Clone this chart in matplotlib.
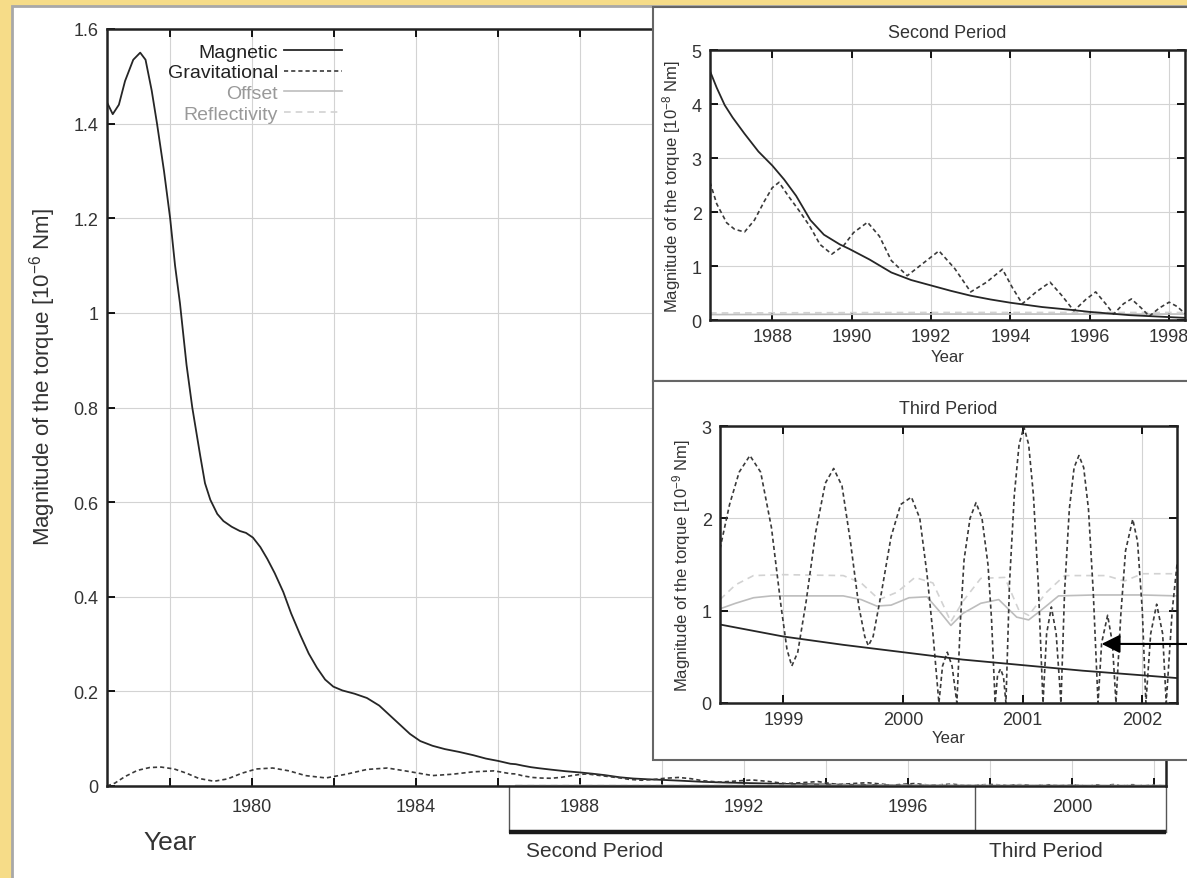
"""LAGEOS spin-axis torques: full mission with zooms on the second and third period."""

import numpy as np
import matplotlib
matplotlib.use("Agg")
import matplotlib.pyplot as plt
from matplotlib.patches import Rectangle

# --- first period, main panel, torque in 1e-6 Nm
MAIN_MAG_YEARS = [1976.46, 1976.6, 1976.75, 1976.9, 1977.1, 1977.27, 1977.4, 1977.55,
                  1977.68, 1977.85, 1978.0, 1978.12, 1978.24, 1978.4, 1978.54, 1978.73,
                  1978.85, 1978.98, 1979.15, 1979.3, 1979.5, 1979.7, 1979.85, 1980.02,
                  1980.2, 1980.37, 1980.55, 1980.76, 1980.95, 1981.17, 1981.38, 1981.58,
                  1981.78, 1981.98, 1982.2, 1982.5, 1982.8, 1983.1, 1983.35, 1983.6,
                  1983.85, 1984.1, 1984.4, 1984.7, 1985.05, 1985.4, 1985.7, 1986.0, 1986.3]
MAIN_MAG = [1.445, 1.42, 1.44, 1.49, 1.535, 1.55, 1.535, 1.47,
            1.40, 1.30, 1.20, 1.10, 1.02, 0.89, 0.80, 0.70,
            0.64, 0.605, 0.575, 0.56, 0.548, 0.539, 0.535, 0.525,
            0.505, 0.48, 0.45, 0.41, 0.365, 0.32, 0.28, 0.25,
            0.225, 0.21, 0.202, 0.195, 0.186, 0.17, 0.15, 0.13,
            0.11, 0.095, 0.085, 0.078, 0.072, 0.065, 0.058, 0.053, 0.047]

MAIN_GRAV_YEARS = [1976.46, 1976.65, 1976.9, 1977.2, 1977.5, 1977.78, 1978.1, 1978.4,
                   1978.7, 1979.07, 1979.4, 1979.75, 1980.1, 1980.5, 1980.9, 1981.3,
                   1981.8, 1982.3, 1982.8, 1983.3, 1983.8, 1984.4, 1984.9, 1985.4,
                   1985.9, 1986.3]
MAIN_GRAV = [0.0, 0.006, 0.02, 0.033, 0.039, 0.04, 0.036, 0.027,
             0.016, 0.01, 0.015, 0.027, 0.036, 0.038, 0.032, 0.022,
             0.017, 0.025, 0.035, 0.038, 0.031, 0.022, 0.025, 0.030,
             0.032, 0.026]

# --- second period, torque in 1e-8 Nm
P2_MAG_YEARS = [1986.43, 1986.6, 1986.8, 1987.0, 1987.3, 1987.65, 1988.0, 1988.3,
                1988.6, 1988.96, 1989.3, 1989.7, 1989.93, 1990.45, 1991.0, 1991.5,
                1992.0, 1992.5, 1993.0, 1993.5, 1994.0, 1994.8, 1995.5, 1996.0,
                1997.0, 1998.1, 1998.4]
P2_MAG = [4.61, 4.3, 3.98, 3.75, 3.45, 3.12, 2.86, 2.6,
          2.3, 1.85, 1.58, 1.4, 1.32, 1.12, 0.88, 0.74,
          0.64, 0.54, 0.45, 0.38, 0.32, 0.24, 0.19, 0.15,
          0.09, 0.05, 0.04]

P2_GRAV_YEARS = [1986.43, 1986.6, 1986.85, 1987.05, 1987.3, 1987.55, 1987.8, 1988.0,
                 1988.17, 1988.4, 1988.7, 1988.96, 1989.2, 1989.5, 1989.8, 1990.05,
                 1990.4, 1990.7, 1991.0, 1991.4, 1991.8, 1992.2, 1992.6, 1993.0,
                 1993.4, 1993.8, 1994.05, 1994.3, 1994.65, 1995.0, 1995.3, 1995.6,
                 1995.9, 1996.15, 1996.4, 1996.6, 1996.85, 1997.05, 1997.3, 1997.5,
                 1997.75, 1998.0, 1998.2, 1998.4]
P2_GRAV = [2.55, 2.15, 1.8, 1.68, 1.63, 1.85, 2.2, 2.45,
           2.55, 2.3, 2.0, 1.72, 1.4, 1.22, 1.38, 1.62,
           1.81, 1.55, 1.1, 0.82, 1.05, 1.28, 0.95, 0.52,
           0.7, 0.94, 0.6, 0.3, 0.52, 0.70, 0.45, 0.17,
           0.38, 0.52, 0.3, 0.11, 0.3, 0.39, 0.22, 0.07,
           0.22, 0.33, 0.25, 0.12]

P2_SMALL_YEARS = [1986.43, 1992.0, 1998.4]
P2_OFFSET = [0.10, 0.11, 0.11]
P2_REFL = [0.13, 0.14, 0.14]

# --- third period, torque in 1e-9 Nm
P3_MAG_YEARS = [1998.47, 1999.0, 1999.5, 2000.0, 2000.5, 2001.0, 2001.5, 2002.0, 2002.29]
P3_MAG = [0.85, 0.72, 0.63, 0.55, 0.47, 0.41, 0.35, 0.30, 0.27]

P3_GRAV_YEARS = [1998.47, 1998.55, 1998.63, 1998.72, 1998.81, 1998.90, 1998.98, 1999.03,
                 1999.07, 1999.12, 1999.19, 1999.27, 1999.35, 1999.42, 1999.49, 1999.56,
                 1999.63, 1999.68, 1999.71, 1999.75, 1999.82, 1999.90, 1999.98, 2000.07,
                 2000.14, 2000.20, 2000.25, 2000.30, 2000.33, 2000.37, 2000.41, 2000.45,
                 2000.48, 2000.51, 2000.56, 2000.61, 2000.66, 2000.71, 2000.74, 2000.77,
                 2000.79, 2000.815, 2000.84, 2000.86, 2000.89, 2000.93, 2000.97, 2001.01,
                 2001.05, 2001.09, 2001.13, 2001.17, 2001.20, 2001.24, 2001.28, 2001.32,
                 2001.35, 2001.39, 2001.43, 2001.47, 2001.51, 2001.55, 2001.59, 2001.63,
                 2001.66, 2001.71, 2001.75, 2001.78, 2001.82, 2001.86, 2001.92, 2001.96,
                 2002.00, 2002.03, 2002.07, 2002.12, 2002.17, 2002.20, 2002.25, 2002.29]
P3_GRAV = [1.67, 2.15, 2.50, 2.68, 2.50, 1.90, 1.05, 0.58,
           0.40, 0.55, 1.10, 1.85, 2.38, 2.54, 2.35, 1.75,
           1.05, 0.72, 0.62, 0.72, 1.20, 1.80, 2.15, 2.23,
           2.00, 1.40, 0.75, 0.0, 0.40, 0.55, 0.40, 0.0,
           0.9, 1.55, 2.0, 2.17, 2.0, 1.5, 0.9, 0.0,
           0.30, 0.37, 0.28, 0.0, 1.3, 2.25, 2.8, 2.99,
           2.8, 2.25, 1.3, 0.0, 0.75, 1.04, 0.75, 0.0,
           1.2, 2.1, 2.55, 2.68, 2.55, 2.1, 1.2, 0.0,
           0.65, 0.95, 0.65, 0.0, 0.95, 1.65, 1.99, 1.75,
           1.0, 0.0, 0.75, 1.07, 0.75, 0.0, 1.0, 1.5]

P3_OFF_YEARS = [1998.47, 1998.6, 1998.75, 1998.9, 1999.2, 1999.5, 1999.65, 1999.78,
                1999.9, 2000.05, 2000.2, 2000.3, 2000.4, 2000.5, 2000.65, 2000.8,
                2000.95, 2001.05, 2001.15, 2001.3, 2001.6, 2002.0, 2002.29]
P3_OFFSET = [1.02, 1.08, 1.14, 1.16, 1.16, 1.16, 1.12, 1.05,
             1.06, 1.14, 1.15, 1.0, 0.84, 0.97, 1.08, 1.12,
             0.93, 0.9, 1.0, 1.16, 1.17, 1.17, 1.16]

P3_REFL_YEARS = [1998.47, 1998.6, 1998.75, 1999.0, 1999.5, 1999.65, 1999.8, 1999.95,
                 2000.1, 2000.25, 2000.4, 2000.5, 2000.65, 2000.85, 2000.97, 2001.05,
                 2001.2, 2001.35, 2001.7, 2001.85, 2002.0, 2002.29]
P3_REFL = [1.12, 1.28, 1.38, 1.39, 1.38, 1.3, 1.12, 1.2,
           1.36, 1.3, 0.88, 1.1, 1.35, 1.36, 1.0, 0.95,
           1.2, 1.38, 1.38, 1.32, 1.4, 1.4]

SERIES = ["Magnetic", "Gravitational", "Offset", "Reflectivity"]
SECOND_START = 1986.27
THIRD_START = 1997.63

W, H = 1187, 879
TXT = "#333333"
STYLE = {
    "Magnetic": dict(color="#262626", lw=1.3, ls="-"),
    "Gravitational": dict(color="#3a3a3a", lw=1.2, ls=(0, (2.5, 1.8))),
    "Offset": dict(color="#bdbdbd", lw=1.2, ls="-"),
    "Reflectivity": dict(color="#d2d2d2", lw=1.2, ls=(0, (4, 3))),
}


def fx(px):
    return px / W


def fy(py):
    return 1 - py / H


def style_axes(ax, labelsize=13):
    for s in ax.spines.values():
        s.set_linewidth(1.8)
        s.set_color("#222222")
    ax.tick_params(direction="in", top=True, right=True, length=6, width=1.3,
                   labelsize=labelsize, labelcolor=TXT, pad=6)
    ax.grid(True, color="#d3d3d3", lw=0.8)
    ax.set_axisbelow(True)


def main():
    plt.rcParams["font.family"] = ["Liberation Sans", "DejaVu Sans"]
    plt.rcParams["mathtext.default"] = "regular"

    fig = plt.figure(figsize=(W / 100, H / 100), dpi=100)
    fig.patch.set_facecolor("#f6dc88")

    # white sheet + inset frames
    fig.patches.append(Rectangle((fx(12), -0.1), 1.2, fy(7) + 0.1, transform=fig.transFigure,
                                 facecolor="white", edgecolor="#a8a8a8", lw=2, zorder=-1))
    for top, bot in [(8, 382), (382, 761)]:
        fig.patches.append(Rectangle((fx(653), fy(bot)), 0.5, (bot - top) / H,
                                     transform=fig.transFigure, facecolor="white",
                                     edgecolor="#666666", lw=1.5, zorder=1))

    # ---- main panel
    ax = fig.add_axes([fx(107), fy(787), (1166 - 107) / W, (787 - 30) / H])
    mag_x = MAIN_MAG_YEARS + P2_MAG_YEARS + P3_MAG_YEARS
    mag_y = MAIN_MAG + [v * 0.01 for v in P2_MAG] + [v * 0.001 for v in P3_MAG]
    grav_x = MAIN_GRAV_YEARS + P2_GRAV_YEARS + P3_GRAV_YEARS
    grav_y = MAIN_GRAV + [v * 0.01 for v in P2_GRAV] + [v * 0.001 for v in P3_GRAV]
    off_x = P2_SMALL_YEARS + P3_OFF_YEARS
    off_y = [v * 0.01 for v in P2_OFFSET] + [v * 0.001 for v in P3_OFFSET]
    ref_x = P2_SMALL_YEARS + P3_REFL_YEARS
    ref_y = [v * 0.01 for v in P2_REFL] + [v * 0.001 for v in P3_REFL]

    for name, xs, ys in zip(SERIES, [mag_x, grav_x, off_x, ref_x], [mag_y, grav_y, off_y, ref_y]):
        ax.plot(xs, ys, label=name, **STYLE[name])

    ax.set_xlim(1976.46, 2002.29)
    ax.set_ylim(0, 1.6)
    style_axes(ax)
    ax.tick_params(axis="x", pad=9)
    xt = list(range(1978, 2003, 2))
    ax.set_xticks(xt)
    ax.set_xticklabels([str(t) if t % 4 == 0 else "" for t in xt])
    ax.set_yticks(np.arange(0, 1.61, 0.2))
    ax.set_yticklabels(["0", "0.2", "0.4", "0.6", "0.8", "1", "1.2", "1.4", "1.6"])
    ax.set_ylabel("Magnitude of the torque [10$^{-6}$ Nm]", fontsize=16, color=TXT)
    ax.yaxis.set_label_coords(-0.046, 0.542)

    leg = ax.legend(loc="upper right", bbox_to_anchor=((342 - 107) / 1059, (787 - 44) / 757),
                    frameon=False, markerfirst=False, fontsize=14, handlelength=3.0,
                    handletextpad=0.3, labelspacing=0.16, borderpad=0, borderaxespad=0)
    for t, c in zip(leg.get_texts(), ["#222222", "#222222", "#999999", "#999999"]):
        t.set_color(c)

    # period bracket under the axis
    tr = ax.get_xaxis_transform()
    yb = -(833 - 787) / 757
    for xv in [SECOND_START, THIRD_START, 2002.29]:
        ax.plot([xv, xv], [0, yb], transform=tr, color="#555555", lw=1.0, clip_on=False)
    ax.plot([SECOND_START, 2002.29], [yb, yb], transform=tr, color="#1a1a1a", lw=3.2,
            clip_on=False, solid_capstyle="butt")
    yl = -(852 - 787) / 757
    ax.text(SECOND_START + 0.4, yl, "Second Period", transform=tr, fontsize=15,
            color=TXT, va="center", ha="left")
    ax.text(THIRD_START + 0.35, yl, "Third Period", transform=tr, fontsize=15,
            color=TXT, va="center", ha="left")
    fig.text(fx(170), fy(843), "Year", fontsize=19, color=TXT, ha="center", va="center")

    # ---- second period inset
    a2 = fig.add_axes([fx(710), fy(321), (1185 - 710) / W, (321 - 51) / H], zorder=2)
    a2.plot(P2_SMALL_YEARS, P2_REFL, **STYLE["Reflectivity"])
    a2.plot(P2_SMALL_YEARS, P2_OFFSET, **STYLE["Offset"])
    a2.plot(P2_GRAV_YEARS, P2_GRAV, **STYLE["Gravitational"])
    a2.plot(P2_MAG_YEARS, P2_MAG, **STYLE["Magnetic"])
    a2.set_xlim(1986.43, 1998.4)
    a2.set_ylim(0, 5)
    a2.set_xticks(range(1988, 1999, 2))
    a2.set_yticks(range(0, 6))
    style_axes(a2)
    a2.set_title("Second Period", fontsize=13, color=TXT, pad=9)
    a2.set_xlabel("Year", fontsize=12, color=TXT, labelpad=3)
    a2.set_ylabel("Magnitude of the torque [10$^{-8}$ Nm]", fontsize=12, color=TXT, labelpad=6)

    # ---- third period inset
    a3 = fig.add_axes([fx(720), fy(704), (1177 - 720) / W, (704 - 427) / H], zorder=2)
    a3.plot(P3_REFL_YEARS, P3_REFL, **STYLE["Reflectivity"])
    a3.plot(P3_OFF_YEARS, P3_OFFSET, **STYLE["Offset"])
    a3.plot(P3_GRAV_YEARS, P3_GRAV, **STYLE["Gravitational"])
    a3.plot(P3_MAG_YEARS, P3_MAG, **STYLE["Magnetic"])
    a3.set_xlim(1998.47, 2002.29)
    a3.set_ylim(0, 3)
    a3.set_xticks(range(1999, 2003))
    a3.set_yticks(range(0, 4))
    style_axes(a3)
    a3.set_title("Third Period", fontsize=13, color=TXT, pad=9)
    a3.set_xlabel("Year", fontsize=12, color=TXT, labelpad=1)
    a3.set_ylabel("Magnitude of the torque [10$^{-9}$ Nm]", fontsize=12, color=TXT, labelpad=6)

    a3.annotate("", xy=(2001.66, 0.64), xycoords="data",
                xytext=(1.02, fy(645)), textcoords="figure fraction",
                arrowprops=dict(arrowstyle="-|>", color="black", lw=1.5,
                                mutation_scale=28, shrinkA=0, shrinkB=0),
                annotation_clip=False)

    fig.savefig("out.png", dpi=100)


if __name__ == "__main__":
    main()
